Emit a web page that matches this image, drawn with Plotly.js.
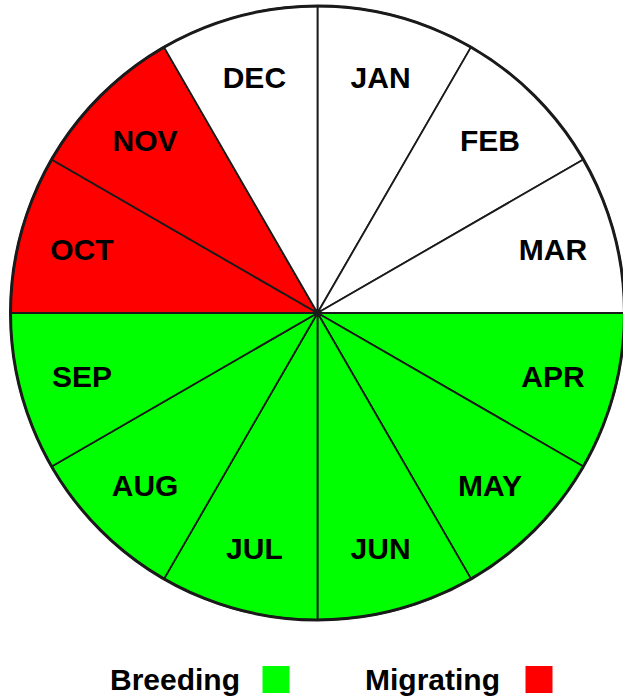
<!DOCTYPE html>
<html>
<head>
<meta charset="utf-8">
<script src="https://cdn.plot.ly/plotly-3.0.1.min.js"></script>
<style>
html,body{margin:0;padding:0;overflow:hidden;background:#fff;}
#chart{width:626px;height:698px;}
</style>
</head>
<body>
<div id="chart"></div>
<script>
const months = ["JAN","FEB","MAR","APR","MAY","JUN","JUL","AUG","SEP","OCT","NOV","DEC"];
const shares = [1,1,1,1,1,1,1,1,1,1,1,1];
const phase = ["none","none","none","Breeding","Breeding","Breeding","Breeding","Breeding","Breeding","Migrating","Migrating","none"];
const legendLabels = ["Breeding","Migrating"];
const phaseColors = {none:"#ffffff", Breeding:"#00ff00", Migrating:"#ff0000"};

const W = 626, H = 698;
const px = x => x / W;
const py = y => 1 - y / H;

const trace = {
  type: "pie",
  labels: months,
  values: shares,
  sort: false,
  direction: "clockwise",
  rotation: 0,
  textinfo: "label",
  textposition: "inside",
  insidetextorientation: "horizontal",
  textfont: {family: "Liberation Sans, Arial, sans-serif", size: 30, color: "#000", weight: "bold"},
  marker: {colors: phase.map(p => phaseColors[p]), line: {color: "#1a1a1a", width: 1.8}},
  domain: {x: [px(9), 1], y: [py(620), py(6)]},
  hoverinfo: "none",
  showlegend: false
};

const legendX = [175, 432];
const boxX = [276, 539];
const annotations = legendLabels.map((l, i) => ({
  text: "<b>" + l + "</b>", xref: "paper", yref: "paper",
  x: px(legendX[i]), y: py(679), xanchor: "center", yanchor: "middle",
  showarrow: false,
  font: {family: "Liberation Sans, Arial, sans-serif", size: 30, color: "#000"}
}));
const shapes = legendLabels.map((l, i) => ({
  type: "rect", xref: "paper", yref: "paper",
  x0: px(boxX[i] - 13.5), x1: px(boxX[i] + 13.5),
  y0: py(693), y1: py(666),
  fillcolor: phaseColors[l], line: {width: 0}
}));
shapes.push({
  type: "circle", xref: "paper", yref: "paper",
  x0: px(10.5), x1: px(624.5), y0: py(620), y1: py(6),
  line: {color: "#1a1a1a", width: 3}, fillcolor: "rgba(0,0,0,0)"
});
shapes.push({
  type: "circle", xref: "paper", yref: "paper",
  x0: px(313.5), x1: px(321.5), y0: py(317), y1: py(309),
  line: {width: 0}, fillcolor: "#1a1a1a"
});

Plotly.newPlot("chart", [trace], {
  width: W, height: H,
  margin: {l: 0, r: 0, t: 0, b: 0},
  paper_bgcolor: "#fff",
  showlegend: false,
  annotations: annotations,
  shapes: shapes
}, {displayModeBar: false, staticPlot: true});
</script>
</body>
</html>
